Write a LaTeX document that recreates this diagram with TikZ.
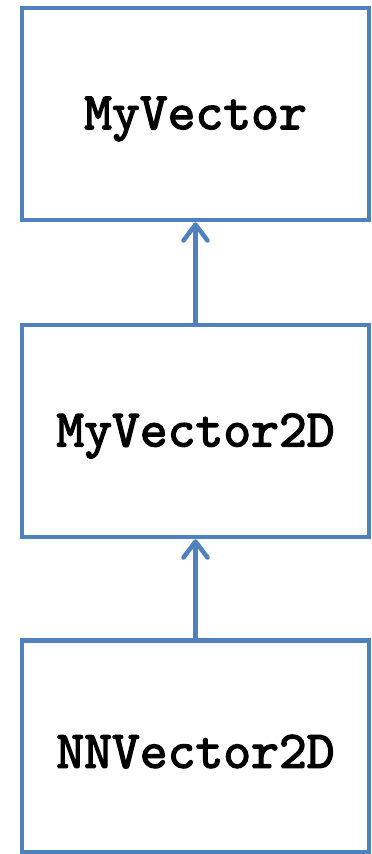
\documentclass[tikz,border=0pt]{standalone}
\usepackage{fontspec}
\newfontfamily\courbold[FakeBold=2.5]{lmmono10-regular.otf}
\usetikzlibrary{arrows.meta}
\definecolor{boxblue}{HTML}{4F81BD}
\newcommand\lowertext[1]{\raisebox{-5pt}[\height][\depth]{#1}}
\begin{document}
\begin{tikzpicture}[x=1pt,y=1pt,
  classbox/.style={draw=boxblue, line width=4.5pt, minimum width=347pt, minimum height=212pt, inner sep=0pt,
    font=\fontsize{53}{56}\selectfont\courbold},
  inherit/.style={draw=boxblue, line width=4.5pt, -{Straight Barb[length=16pt,width=24pt,round]}}]
\useasboundingbox (0,0) rectangle (372,-854);
\node[classbox] (vec) at (195.5,-114) {\lowertext{MyVector}};
\node[classbox] (vec2) at (195.5,-431) {\lowertext{MyVector2D}};
\node[classbox] (nn) at (195.5,-746.5) {\lowertext{NNVector2D}};
\draw[inherit] (vec2.north) -- (vec.south);
\draw[inherit] (nn.north) -- (vec2.south);
\end{tikzpicture}
\end{document}
